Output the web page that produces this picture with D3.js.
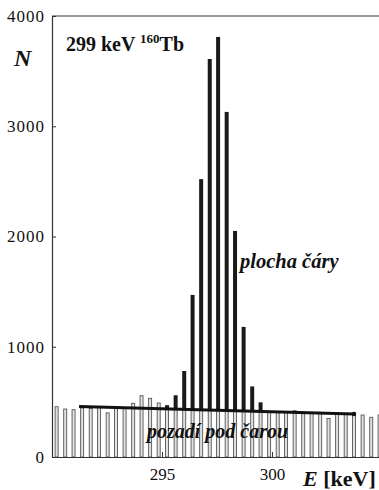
<!DOCTYPE html>
<html>
<head>
<meta charset="utf-8">
<script src="https://cdn.jsdelivr.net/npm/d3@7"></script>
<style>
  html, body { margin: 0; padding: 0; background: #fff; }
  svg { display: block; }
  text { font-family: "Liberation Serif", "Times New Roman", serif; fill: #111; }
</style>
</head>
<body>
<svg id="chart" width="379" height="490"></svg>
<script>
// channel energies (keV)
const channelE = [290.21, 290.60, 290.98, 291.37, 291.76, 292.14, 292.53, 292.91, 293.30, 293.69,
                  294.07, 294.46, 294.85, 295.23, 295.62, 296.01, 296.39, 296.78, 297.17, 297.55,
                  297.94, 298.32, 298.71, 299.10, 299.48, 299.87, 300.26, 300.64, 301.03, 301.42,
                  301.80, 302.19, 302.57, 302.96, 303.35, 303.73, 304.12, 304.51, 304.89];
// counts per channel
const counts = [456, 435, 429, 445, 440, 450, 400, 445, 440, 487,
                556, 532, 490, 470, 560, 780, 1470, 2520, 3610, 3810,
                3130, 2050, 1180, 640, 496, 410, 405, 410, 420, 395,
                400, 395, 350, 385, 390, 396, 381, 360, 381];
// channels that belong to the line (black above the background line)
const peakChannels = [13, 14, 15, 16, 17, 18, 19, 20, 21, 22, 23, 24];
// background under the line, end points
const bgE = [291.23, 303.73];
const bgN = [458, 390];
const yTicks = [0, 1000, 2000, 3000, 4000];
const xTicks = [295, 300];

const svg = d3.select('#chart');
const mLeft = 52, mTop = 16, mRight = 379, mBottom = 457;

const x = d3.scaleLinear().domain([290, 304.864]).range([mLeft, mRight]);
const y = d3.scaleLinear().domain([0, 4000]).range([mBottom, mTop]);
const bg = d3.scaleLinear().domain(bgE).range(bgN);

const data = channelE.map((e, i) => {
  const peak = peakChannels.includes(i);
  return { e: e, n: counts[i], peak: peak, base: peak ? Math.min(bg(e), counts[i]) : counts[i] };
});

// background part of every channel: thin open bars
svg.append('g').selectAll('rect')
  .data(data)
  .join('rect')
    .attr('x', d => x(d.e) - 1.5)
    .attr('y', d => y(d.base))
    .attr('width', 3)
    .attr('height', d => mBottom - y(d.base))
    .attr('fill', '#e2e2e2')
    .attr('stroke', '#555')
    .attr('stroke-width', 0.9);

// line part: black bars above the background
svg.append('g').selectAll('rect')
  .data(data.filter(d => d.peak))
  .join('rect')
    .attr('x', d => x(d.e) - 2)
    .attr('y', d => y(d.n))
    .attr('width', 4)
    .attr('height', d => y(d.base) - y(d.n))
    .attr('fill', '#1a1a1a');

// background line
svg.append('line')
  .attr('x1', x(bgE[0])).attr('y1', y(bgN[0]))
  .attr('x2', x(bgE[1])).attr('y2', y(bgN[1]))
  .attr('stroke', '#111')
  .attr('stroke-width', 3);
svg.append('circle')
  .attr('cx', x(bgE[1])).attr('cy', y(bgN[1]))
  .attr('r', 2.2)
  .attr('fill', '#111');

// frame
svg.append('line')
  .attr('x1', mLeft).attr('y1', mTop).attr('x2', mRight).attr('y2', mTop)
  .attr('stroke', '#333').attr('stroke-width', 1.2);

const yAxis = svg.append('g')
  .attr('transform', `translate(${mLeft},0)`)
  .call(d3.axisLeft(y).tickValues(yTicks).tickFormat(d3.format('d'))
    .tickSizeInner(-4).tickSizeOuter(0).tickPadding(7));
yAxis.select('.domain').attr('stroke', '#333').attr('stroke-width', 1.2);
yAxis.selectAll('.tick line').attr('stroke', '#333');
yAxis.selectAll('.tick text')
  .style('font-family', '"Liberation Serif", serif')
  .style('font-size', '17px')
  .style('letter-spacing', '1px')
  .attr('fill', '#111');

const xAxis = svg.append('g')
  .attr('transform', `translate(0,${mBottom})`)
  .call(d3.axisBottom(x).tickValues(xTicks)
    .tickSizeInner(-5).tickSizeOuter(0).tickPadding(11));
xAxis.select('.domain').attr('stroke', '#333').attr('stroke-width', 1.2);
xAxis.selectAll('.tick line').attr('stroke', '#333');
xAxis.selectAll('.tick text')
  .style('font-family', '"Liberation Serif", serif')
  .style('font-size', '17px')
  .attr('fill', '#111');

// labels
svg.append('text')
  .attr('x', 14).attr('y', 66)
  .style('font-size', '24px').style('font-weight', 'bold').style('font-style', 'italic')
  .text('N');

const title = svg.append('text')
  .attr('x', 66).attr('y', 51)
  .style('font-size', '20px').style('font-weight', 'bold');
title.append('tspan').text('299 keV ');
title.append('tspan').attr('dy', -8).style('font-size', '13px').text('160');
title.append('tspan').attr('dy', 8).text('Tb');

svg.append('text')
  .attr('x', 240).attr('y', 268)
  .style('font-size', '20.5px').style('font-weight', 'bold').style('font-style', 'italic')
  .text('plocha čáry');

svg.append('text')
  .attr('x', 147).attr('y', 438)
  .style('font-size', '20px').style('font-weight', 'bold').style('font-style', 'italic')
  .text('pozadí pod čarou');

const xl = svg.append('text')
  .attr('x', 303).attr('y', 486)
  .style('font-size', '22px').style('font-weight', 'bold');
xl.append('tspan').style('font-style', 'italic').text('E');
xl.append('tspan').text(' [keV]');
</script>
</body>
</html>
